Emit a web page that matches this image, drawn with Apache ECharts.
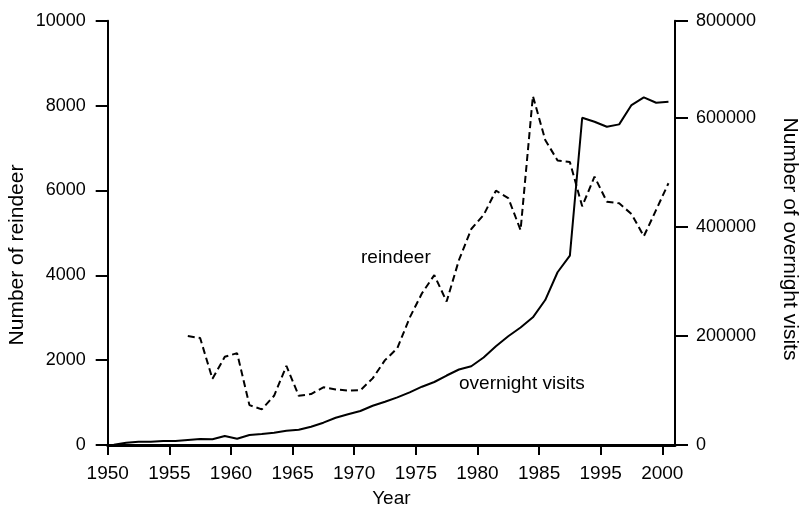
<!DOCTYPE html>
<html>
<head>
<meta charset="utf-8">
<script src="https://cdn.jsdelivr.net/npm/echarts@6/dist/echarts.min.js"></script>
<style>
html,body{margin:0;padding:0;background:#fff;}
#chart{width:800px;height:508px;}
</style>
</head>
<body>
<div id="chart"></div>
<script>
// Year of each observation (plotted at mid-year)
const years = [1950,1951,1952,1953,1954,1955,1956,1957,1958,1959,
               1960,1961,1962,1963,1964,1965,1966,1967,1968,1969,
               1970,1971,1972,1973,1974,1975,1976,1977,1978,1979,
               1980,1981,1982,1983,1984,1985,1986,1987,1988,1989,
               1990,1991,1992,1993,1994,1995];
// Number of reindeer (left axis)
const reindeer = [null,null,null,null,null,null,
               2570,2520,1560,2080,2165,940,840,1160,1865,1160,
               1200,1360,1310,1280,1290,1570,2000,2280,3000,3575,
               4005,3380,4360,5090,5420,5995,5820,5065,8225,7190,
               6705,6670,5625,6325,5735,5695,5445,4920,5540,6170];
// Number of overnight visits (right axis)
const visits = [500,4000,6000,6000,7300,7300,9200,11000,10500,16500,
               11500,18300,20200,22500,26200,28000,33500,40900,50000,56300,
               62300,72000,79400,87400,96600,106900,115500,127400,138400,144300,
               160400,181000,199300,215400,234100,265800,316800,347400,600000,592700,
               583500,587900,623300,637400,627500,629400];
// Axis ticks and their labels
const xTickValues = [1950,1955,1960,1965,1970,1975,1980,1985,1990,1995];
const xTickLabels = ['1950','1955','1960','1965','1970','1975','1980','1985','1995','2000'];
const leftTicks = [0,2000,4000,6000,8000,10000];
const rightTickValues = [0,200000,400000,600000,778000];
const rightTickLabels = ['0','200000','400000','600000','800000'];

const FONT = 'Liberation Sans, Arial, Helvetica, sans-serif';
const reindeerData = years.map((y,i)=>[y+0.5, reindeer[i]]);
const visitsData = years.map((y,i)=>[y+0.5, visits[i]]);

const chart = echarts.init(document.getElementById('chart'), null, {renderer:'canvas'});
chart.setOption({
  animation:false,
  backgroundColor:'#ffffff',
  grid:{left:107.7, right:125, top:20.7, bottom:63, containLabel:false, outerBoundsMode:'none'},
  xAxis:{
    type:'value', min:1950, max:1996.03,
    name:'Year', nameLocation:'middle', nameGap:44,
    nameTextStyle:{fontFamily:FONT, fontSize:19, color:'#000'},
    axisLine:{show:true, onZero:false, lineStyle:{color:'#000', width:3}},
    axisTick:{show:true, length:10, inside:false, customValues:xTickValues, lineStyle:{color:'#000', width:2}},
    axisLabel:{show:true, margin:19, fontFamily:FONT, fontSize:19, color:'#000',
      customValues:xTickValues,
      formatter:(v)=>{const i=xTickValues.indexOf(Math.round(v)); return i>=0?xTickLabels[i]:'';}},
    splitLine:{show:false}
  },
  yAxis:[{
    type:'value', position:'left', min:0, max:10000,
    axisLine:{show:true, lineStyle:{color:'#000', width:2}},
    axisTick:{show:true, length:12, customValues:leftTicks, lineStyle:{color:'#000', width:2}},
    axisLabel:{show:true, margin:22, fontFamily:FONT, fontSize:18, color:'#000', customValues:leftTicks,
      formatter:(v)=>String(v)},
    splitLine:{show:false}
  },{
    type:'value', position:'right', min:0, max:778000,
    axisLine:{show:true, lineStyle:{color:'#000', width:2}},
    axisTick:{show:true, length:13, customValues:rightTickValues, lineStyle:{color:'#000', width:2}},
    axisLabel:{show:true, margin:21, fontFamily:FONT, fontSize:18, color:'#000',
      customValues:rightTickValues,
      formatter:(v)=>{const i=rightTickValues.indexOf(v); return i>=0?rightTickLabels[i]:'';}},
    splitLine:{show:false}
  }],
  series:[{
    name:'reindeer', type:'line', yAxisIndex:0, data:reindeerData,
    showSymbol:false, symbol:'none', connectNulls:false,
    lineStyle:{color:'#000', width:2, type:[7,4]}
  },{
    name:'overnight visits', type:'line', yAxisIndex:1, data:visitsData,
    showSymbol:false, symbol:'none',
    lineStyle:{color:'#000', width:2, type:'solid'}
  }],
  graphic:[
    {type:'text', x:17, y:255, rotation:Math.PI/2,
      style:{text:'Number of reindeer', font:'21px '+FONT, fill:'#000', textAlign:'center', textVerticalAlign:'middle'}},
    {type:'text', x:790, y:239, rotation:-Math.PI/2,
      style:{text:'Number of overnight visits', font:'21px '+FONT, fill:'#000', textAlign:'center', textVerticalAlign:'middle'}},
    {type:'text', left:361, top:248, style:{text:'reindeer', font:'19px '+FONT, fill:'#000'}},
    {type:'text', left:459, top:374, style:{text:'overnight visits', font:'19px '+FONT, fill:'#000'}}
  ]
});
</script>
</body>
</html>
